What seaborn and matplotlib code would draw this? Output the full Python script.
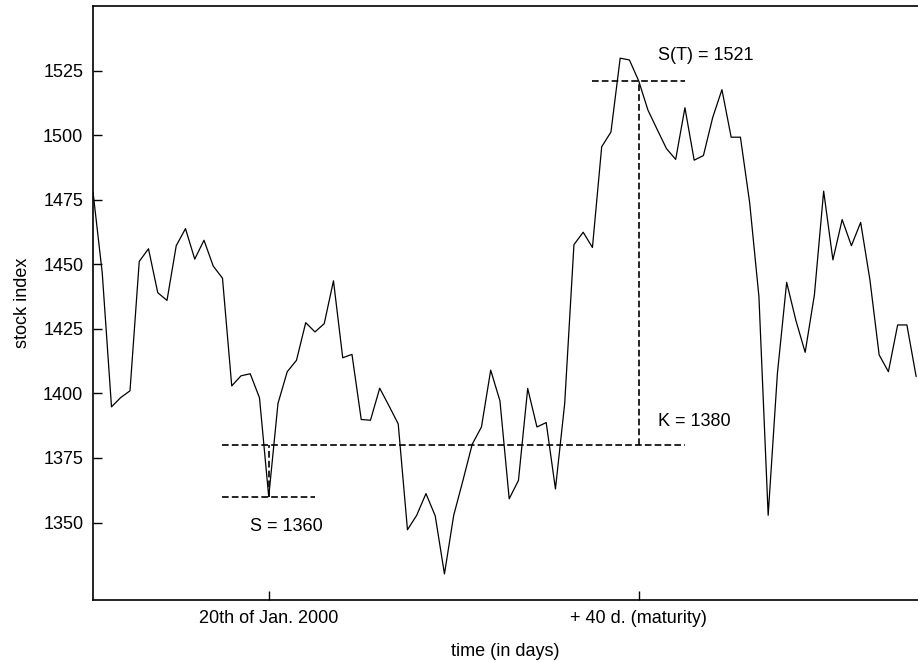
import matplotlib
matplotlib.use("Agg")
import matplotlib.pyplot as plt
import seaborn as sns
import pandas as pd

# days relative to 20th of Jan. 2000
days = list(range(-19, 71))
index_values = [
    1478, 1446.6, 1394.8, 1398.4, 1401, 1451.1, 1456, 1439, 1436, 1457.2,
    1463.8, 1452, 1459.3, 1449.3, 1444.6, 1402.9, 1406.8, 1407.6, 1398.3, 1360,
    1396.1, 1408.4, 1412.8, 1427.4, 1423.8, 1427, 1443.6, 1413.8, 1415.1, 1389.9,
    1389.6, 1402, 1395.2, 1388.2, 1347.2, 1352.8, 1361.2, 1352.6, 1330.1, 1352.8,
    1366.3, 1380.3, 1387, 1409, 1397.1, 1359.2, 1366.3, 1401.9, 1387, 1388.7,
    1363, 1396.1, 1457.6, 1462.4, 1456.5, 1495.5, 1501.2, 1529.8, 1529.1, 1521,
    1509.7, 1502.2, 1494.8, 1490.6, 1510.6, 1490.3, 1492.1, 1506.8, 1517.6, 1499.2,
    1499.2, 1473.8, 1437.5, 1352.8, 1407.8, 1443, 1428.2, 1415.9, 1438.2, 1478.3,
    1451.7, 1467.3, 1457.2, 1466.2, 1444, 1414.9, 1408.4, 1426.5, 1426.5, 1406.5,
]
y_ticks = [1350, 1375, 1400, 1425, 1450, 1475, 1500, 1525]
x_ticks = [0, 40]
x_tick_labels = ["20th of Jan. 2000", "+ 40 d. (maturity)"]
strike = 1380
spot = 1360
final = 1521
maturity = 40

df = pd.DataFrame({"day": days, "index": index_values})

sns.set_theme(style="white")
plt.rcParams["font.family"] = ["Liberation Sans", "DejaVu Sans"]
plt.rcParams["text.color"] = "black"
plt.rcParams["axes.labelcolor"] = "black"

fig = plt.figure(figsize=(9.18, 6.62), dpi=100)
ax = fig.add_axes([93 / 918, 1 - 600 / 662, 1 - 93 / 918, (600 - 6) / 662])

sns.lineplot(data=df, x="day", y="index", ax=ax, color="black", linewidth=0.9)

dash = dict(color="black", linewidth=1.2, linestyle=(0, (4.0, 1.9)))
ax.plot([-5, 45], [strike, strike], **dash)
ax.plot([-5, 5], [spot, spot], **dash)
ax.plot([0, 0], [spot, strike], **dash)
ax.plot([35, 45], [final, final], **dash)
ax.plot([maturity, maturity], [strike, final], **dash)

ax.text(-2, 1348.5, f"S = {spot}", fontsize=13, va="center", ha="left", color="black")
ax.text(42.1, 1389.3, f"K = {strike}", fontsize=13, va="center", ha="left", color="black")
ax.text(42.1, 1531, f"S(T) = {final}", fontsize=13, va="center", ha="left", color="black")

ax.set_xlim(-19, 70.2)
ax.set_ylim(1320, 1550)
ax.set_yticks(y_ticks)
ax.set_xticks(x_ticks)
ax.set_xticklabels(x_tick_labels)
ax.tick_params(axis="both", direction="in", length=6.2, width=1.0, color="black",
               labelsize=13, labelcolor="black", pad=7,
               left=True, bottom=True, top=False, right=False)
ax.set_xlabel("time (in days)", fontsize=13, labelpad=12, color="black")
ax.set_ylabel("stock index", fontsize=13, labelpad=9, color="black")

for side in ["left", "bottom", "top"]:
    ax.spines[side].set_visible(True)
    ax.spines[side].set_color("black")
    ax.spines[side].set_linewidth(1.2)
ax.spines["right"].set_visible(False)

fig.savefig("out.png", dpi=100)
